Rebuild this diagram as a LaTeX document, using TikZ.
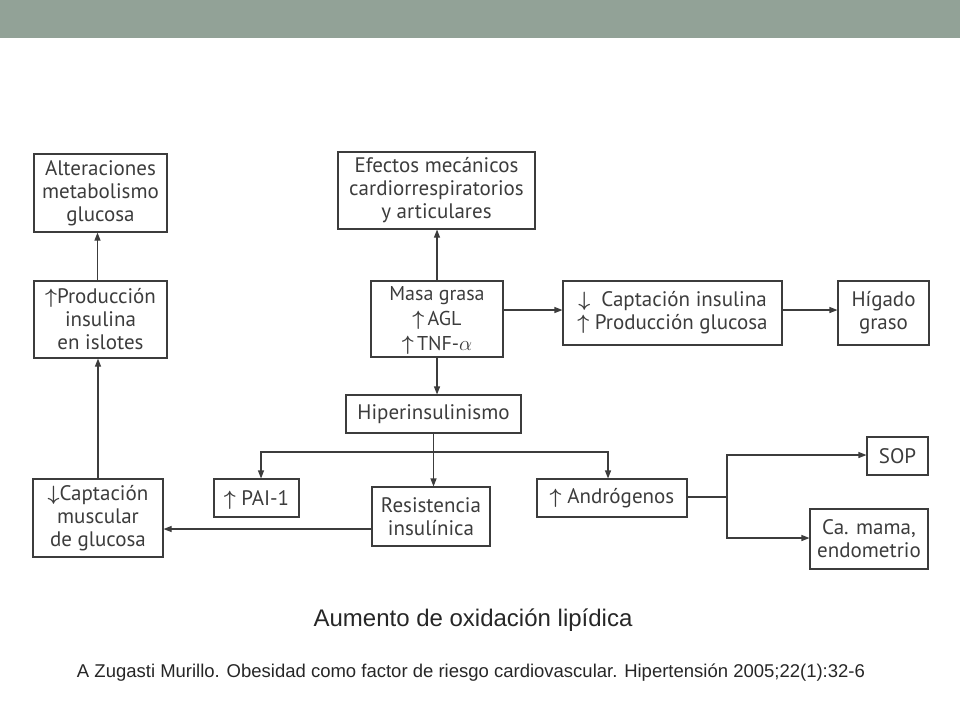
\documentclass[tikz,border=0pt]{standalone}
\usepackage{amsmath, amssymb}
\usepackage{fontspec}
\setmainfont{PT Sans}
\newfontfamily\citefont{Liberation Sans}
\usetikzlibrary{calc, arrows.meta}
\definecolor{barcolor}{RGB}{146,162,151}
\definecolor{inkcolor}{RGB}{60,60,60}
\newcommand{\upmark}{\raisebox{0pt}[0.7em][0pt]{$\boldsymbol{\uparrow}$}}
\newcommand{\downmark}{\raisebox{0pt}[0.7em][0pt]{$\boldsymbol{\downarrow}$}}
\tikzset{
    flowbox/.style={draw=inkcolor, line width=1.1pt, text=inkcolor, align=center, inner sep=0pt,
        font=\fontsize{21}{23}\selectfont},
    flowarrow/.style={draw=inkcolor, line width=1.1pt, -{Triangle[length=8pt, width=6pt]}},
    flowline/.style={draw=inkcolor, line width=1.1pt}
}
\begin{document}
\begin{tikzpicture}[x=1pt, y=-1pt]
        \useasboundingbox (0,0) rectangle (960,720);
        \fill[barcolor] (0,0) rectangle (960,38);

        \node[flowbox, minimum width=133pt, minimum height=78pt] (alteraciones) at (100.5,193) {Alteraciones\\metabolismo\\glucosa};
        \node[flowbox, minimum width=133pt, minimum height=77pt] (islotes) at (100.5,319.5) {\upmark Producción\\insulina\\en islotes};
        \node[flowbox, minimum width=130pt, minimum height=78pt] (muscular) at (98,518) {\downmark Captación\\muscular\\de glucosa};

        \node[flowbox, minimum width=197pt, minimum height=77pt] (efectos) at (436.5,190.5) {Efectos mecánicos\\cardiorrespiratorios\\y articulares};
        \node[flowbox, minimum width=132pt, minimum height=76pt, font=\fontsize{20}{25}\selectfont] (masa) at (437,319) {Masa grasa\\\upmark\,AGL\\\upmark\,TNF-$\alpha$};
        \node[flowbox, minimum width=175pt, minimum height=38pt] (hiper) at (433.5,414) {Hiperinsulinismo};
        \node[flowbox, minimum width=219pt, minimum height=64pt] (captacion) at (672.5,313) {\downmark\ \ Captación insulina\\\upmark\ Producción glucosa};
        \node[flowbox, minimum width=91pt, minimum height=64pt] (higado) at (883.5,313) {Hígado\\graso};

        \node[flowbox, minimum width=85pt, minimum height=38pt] (pai) at (256.5,498) {\upmark\ PAI-1};
        \node[flowbox, minimum width=118pt, minimum height=59pt] (resistencia) at (431,516.5) {Resistencia\\insulínica};
        \node[flowbox, minimum width=150pt, minimum height=38pt] (androgenos) at (612,498) {\upmark\ Andrógenos};
        \node[flowbox, minimum width=61pt, minimum height=38pt] (sop) at (897.5,456) {SOP};
        \node[flowbox, minimum width=118pt, minimum height=60pt] (cancer) at (869,539) {Ca. mama,\\endometrio};

        \coordinate (split) at (hiper.south |- 0,452);
        \coordinate (fork) at (727,497);

        \draw[flowarrow] ([xshift=-3pt]islotes.north) -- ([xshift=-3pt]alteraciones.south);
        \draw[flowarrow] (muscular.north) -- (muscular.north |- islotes.south);
        \draw[flowarrow] (masa.north) -- (masa.north |- efectos.south);
        \draw[flowarrow] (masa.east |- 0,310) -- (captacion.west |- 0,310);
        \draw[flowarrow] (captacion.east |- 0,310) -- (higado.west |- 0,310);
        \draw[flowarrow] (masa.south) -- (masa.south |- hiper.north);
        \draw[flowarrow] (hiper.south) -- (hiper.south |- resistencia.north);
        \draw[flowarrow] (split) -| ([xshift=4.5pt]pai.north);
        \draw[flowarrow] (split) -| ([xshift=-4pt]androgenos.north);
        \draw[flowarrow] (resistencia.west |- 0,529) -- (muscular.east |- 0,529);
        \draw[flowline] (androgenos.east |- fork) -- (fork);
        \draw[flowarrow] (fork) |- (sop.west |- 0,455);
        \draw[flowarrow] (fork) |- (cancer.west |- 0,538);

        \node[text=black!85, font=\citefont\fontsize{24}{28}\selectfont] (aumento) at (473,620) {Aumento de oxidación lipídica};
        \node[text=black!85, font=\citefont\fontsize{18.5}{22}\selectfont] (cita) at (471,673) {A Zugasti Murillo. Obesidad como factor de riesgo cardiovascular. Hipertensión 2005;22(1):32-6};
\end{tikzpicture}
\end{document}
